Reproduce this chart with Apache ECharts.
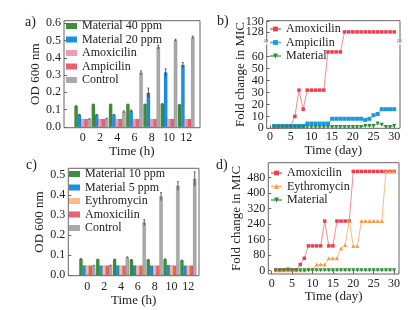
<!DOCTYPE html>
<html>
<head>
<meta charset="utf-8">
<script src="https://cdn.jsdelivr.net/npm/echarts@6/dist/echarts.min.js"></script>
<style>html,body{margin:0;padding:0;background:#fff}#main{width:419px;height:310px}</style>
</head>
<body>
<div id="main"></div>
<script>
// bar panels (a, c): OD 600 nm vs time in hours
const hours = [0, 2, 4, 6, 8, 10, 12];
const hourTicks = [0, 2, 4, 6, 8, 10, 12];

const aMat40 = [0.120, 0.130, 0.130, 0.130, 0.130, 0.133, 0.128];
const aMat40Err = [0.003, 0.002, 0.002, 0.002, 0.002, 0.002, 0.002];
const aMat20 = [0.070, 0.070, 0.070, 0.092, 0.197, 0.315, 0.358];
const aMat20Err = [0.003, 0.002, 0.002, 0.006, 0.028, 0.022, 0.015];
const aAmox = [0.045, 0.045, 0.045, 0.045, 0.045, 0.045, 0.045];
const aAmp = [0.045, 0.045, 0.045, 0.045, 0.045, 0.045, 0.045];
const aCtrl = [0.045, 0.048, 0.087, 0.313, 0.462, 0.502, 0.518];
const aCtrlErr = [0.002, 0.002, 0.006, 0.012, 0.012, 0.006, 0.008];
const aTicks = [0, 0.1, 0.2, 0.3, 0.4, 0.5, 0.6];

const cMat10 = [0.080, 0.078, 0.078, 0.076, 0.076, 0.078, 0.073];
const cMat10Err = [0.003, 0.002, 0.002, 0.002, 0.002, 0.003, 0.002];
const cMat5 = [0.048, 0.047, 0.048, 0.048, 0.047, 0.050, 0.047];
const cEry = [0.047, 0.047, 0.047, 0.047, 0.047, 0.048, 0.047];
const cAmox = [0.047, 0.047, 0.047, 0.047, 0.047, 0.047, 0.047];
const cCtrl = [0.047, 0.048, 0.088, 0.262, 0.392, 0.445, 0.480];
const cCtrlErr = [0.002, 0.002, 0.003, 0.015, 0.020, 0.022, 0.035];
const cTicks = [0, 0.1, 0.2, 0.3, 0.4, 0.5];

// line panels (b, d): fold change in MIC vs day
const days = [1,2,3,4,5,6,7,8,9,10,11,12,13,14,15,16,17,18,19,20,21,22,23,24,25,26,27,28,29,30];
const dayTicks = [0, 5, 10, 15, 20, 25, 30];

const bAmox = [1,1,2,2,2,10,32,16,32,32,32,32,32,64,64,64,64,128,128,128,128,128,128,128,128,128,128,128,128,128];
const bAmp = [2,2,2,2,2,2,2,2,4,4,4,4,4,4,8,8,8,8,8,8,8,8,7,8,11,12,16,16,16,16];
const bMat = [1,1,1,1,1,1,1,1,1,1,1,1,1,1,1,1,1,1,1,1,1,1,2,2,2,4,3,1,1,2];
const bLowTicks = [0, 10, 20, 30, 40, 50, 60];
const bTick128 = [128];
const bTick130 = [130];

const dAmox = [2,2,4,8,4,4,32,64,128,128,128,128,256,128,128,256,256,256,256,512,512,512,512,512,512,512,512,512,512,512];
const dEry = [2,2,2,2,2,2,2,2,8,8,32,32,32,64,64,64,116,132,256,128,128,256,256,256,256,256,256,512,512,512];
const dMat = [2,2,2,2,2,2,2,2,2,2,2,2,2,2,2,2,2,2,2,2,2,2,2,2,2,2,2,2,2,2];
const dTicks = [0, 80, 160, 240, 320, 400, 480];

// broken y axis in b: 0..64 linear, 128..130 stretched on top
function foldY(v) { return v <= 70 ? v : 80.8 + (v - 128) * 4.3; }
function unfoldY(t) { return t <= 70 ? Math.round(t) : Math.round(128 + (t - 80.8) / 4.3); }

const font = 'Liberation Serif';
const ink = '#222';
const frame = '#666';

const chart = echarts.init(document.getElementById('main'), null, { renderer: 'canvas' });

function barRender(slot, bw) {
    return function (params, api) {
        const t = api.value(0), v = api.value(1), e = api.value(2);
        const base = api.coord([t, 0]);
        const top = api.coord([t, v]);
        const x = base[0] + (slot - 2.5) * bw;
        const cx = x + bw / 2;
        const kids = [{
            type: 'rect',
            shape: { x: x, y: top[1], width: bw, height: base[1] - top[1] },
            style: { fill: api.visual('color'), stroke: 'rgba(0,0,0,0.25)', lineWidth: 0.4 }
        }];
        if (e > 0) {
            const hi = api.coord([t, v + e])[1];
            const lo = api.coord([t, v - e])[1];
            kids.push({ type: 'line', shape: { x1: cx, y1: hi, x2: cx, y2: lo }, style: { stroke: '#333', lineWidth: 0.8 } });
            kids.push({ type: 'line', shape: { x1: cx - 1, y1: hi, x2: cx + 1, y2: hi }, style: { stroke: '#333', lineWidth: 0.6 } });
        }
        return { type: 'group', children: kids };
    };
}

function barSeries(name, vals, errs, color, slot, bw, idx) {
    return {
        name: name,
        type: 'custom',
        xAxisIndex: idx,
        yAxisIndex: idx,
        itemStyle: { color: color },
        renderItem: barRender(slot, bw),
        data: hours.map((h, i) => [h, vals[i], errs ? errs[i] : 0])
    };
}

function lineSeries(name, vals, color, lineColor, symbol, size, rotate, idx, tf) {
    return {
        name: name,
        type: 'line',
        xAxisIndex: idx,
        yAxisIndex: idx,
        symbol: symbol,
        symbolSize: size,
        symbolRotate: rotate,
        itemStyle: { color: color },
        lineStyle: { color: lineColor, width: 1 },
        data: days.map((d, i) => [d, tf ? tf(vals[i]) : vals[i]])
    };
}

function xAxis(idx, min, max, ticks, margin, gap, name) {
    return {
        type: 'value', gridIndex: idx, min: min, max: max,
        name: name, nameLocation: 'middle', nameGap: gap,
        nameTextStyle: { fontFamily: font, fontSize: 13, color: ink },
        axisLine: { show: false, onZero: false },
        axisTick: { show: true, inside: true, length: 3, customValues: ticks, lineStyle: { color: frame } },
        axisLabel: { customValues: ticks, interval: 0, margin: margin, hideOverlap: false, fontFamily: font, fontSize: 12, color: ink },
        splitLine: { show: false }
    };
}

function yAxis(idx, min, max, ticks, gap, name, fmt) {
    return {
        type: 'value', gridIndex: idx, position: 'left', min: min, max: max,
        name: name, nameLocation: 'middle', nameGap: gap,
        nameTextStyle: { fontFamily: font, fontSize: 13, color: ink },
        axisLine: { show: false, onZero: false },
        axisTick: { show: true, inside: true, length: 3, customValues: ticks, lineStyle: { color: frame } },
        axisLabel: { customValues: ticks, interval: 0, margin: 3, hideOverlap: false, fontFamily: font, fontSize: 12, color: ink, formatter: fmt },
        splitLine: { show: false }
    };
}

function legend(names, left, top, isLine) {
    return {
        orient: 'vertical', left: left, top: top,
        itemWidth: 11, itemHeight: 6, itemGap: 1.5,
        padding: 0,
        icon: isLine ? undefined : 'rect',
        textStyle: { fontFamily: font, fontSize: 12, color: ink },
        data: names
    };
}

// the same label shows up in several panels; keep series names unique per panel
const aNames = ['Material 40 ppm', 'Material 20 ppm', 'Amoxicilin', 'Ampicilin', 'Control'];
const aColors = ['#3e8e3a', '#1a8fe3', '#f39ab6', '#e8616f', '#a9a9a9'];
const bNames = ['Amoxicilin ', 'Ampicilin ', 'Material'];
const cNames = ['Material 10 ppm', 'Material 5 ppm', 'Eythromycin', 'Amoxicilin  ', 'Control '];
const cColors = ['#3e8e3a', '#1a8fe3', '#fdbb88', '#e8616f', '#a9a9a9'];
const dNames = ['Amoxicilin   ', 'Eythromycin ', 'Material '];

const titleStyle = { fontFamily: font, fontSize: 14, fontWeight: 'normal', color: ink };

const bFmt = v => String(unfoldY(v));

// panel b lower part: plain interval axis, labels only up to 60
const bMainAxis = {
    type: 'value', gridIndex: 1, position: 'left', min: 0, max: 90.2, interval: 10,
    name: 'Fold change in MIC', nameLocation: 'middle', nameGap: 20,
    nameTextStyle: { fontFamily: font, fontSize: 13, color: ink },
    axisLine: { show: false, onZero: false },
    axisTick: { show: true, inside: true, length: 3, customValues: bLowTicks, lineStyle: { color: frame } },
    axisLabel: { margin: 3, showMaxLabel: false, fontFamily: font, fontSize: 12, color: ink,
        formatter: v => (v <= 60 ? String(v) : '') },
    splitLine: { show: false }
};

const option = {
    animation: false,
    backgroundColor: '#fff',
    textStyle: { fontFamily: font },
    title: [
        { text: 'a)', left: 20, top: 10, textStyle: titleStyle },
        { text: 'b)', left: 212, top: 9, textStyle: titleStyle },
        { text: 'c)', left: 21, top: 153, textStyle: titleStyle },
        { text: 'd)', left: 211, top: 153, textStyle: titleStyle }
    ],
    grid: [
        { left: 64, top: 20.7, width: 136, height: 107, show: true, borderColor: frame, borderWidth: 1 },
        { left: 266.7, top: 20.7, width: 133.3, height: 107.6, show: true, borderColor: frame, borderWidth: 1 },
        { left: 68.3, top: 168.3, width: 130.7, height: 107.4, show: true, borderColor: frame, borderWidth: 1 },
        { left: 268.3, top: 162.7, width: 130.7, height: 111.3, show: true, borderColor: frame, borderWidth: 1 }
    ],
    legend: [
        legend(aNames, 66, 20, false),
        legend(bNames, 269, 23, true),
        legend(cNames, 69, 168, false),
        legend(dNames, 270, 167, true)
    ],
    xAxis: [
        xAxis(0, -2.17, 13.6, hourTicks, 4, 14, 'Time (h)'),
        xAxis(1, -0.8, 31.4, dayTicks, 3, 16, 'Time (day)'),
        xAxis(2, -2.26, 13.27, hourTicks, 5, 14, 'Time (h)'),
        xAxis(3, -0.83, 31.2, dayTicks, 3.5, 16, 'Time (day)')
    ],
    yAxis: [
        yAxis(0, -0.005, 0.615, aTicks, 19, 'OD 600 nm', v => v.toFixed(1)),
        bMainAxis,
        yAxis(2, -0.003, 0.533, cTicks, 21, 'OD 600 nm', v => v.toFixed(1)),
        yAxis(3, -17, 557, dTicks, 25, 'Fold change in MIC', v => String(Math.round(v))),
        yAxis(1, 0, 90.2, bTick128.map(foldY), 20, '', bFmt),
        yAxis(1, 0, 90.2, bTick130.map(foldY), 20, '', bFmt)
    ],
    series: [
        barSeries(aNames[0], aMat40, aMat40Err, aColors[0], 0, 3.3, 0),
        barSeries(aNames[1], aMat20, aMat20Err, aColors[1], 1, 3.3, 0),
        barSeries(aNames[2], aAmox, null, aColors[2], 2, 3.3, 0),
        barSeries(aNames[3], aAmp, null, aColors[3], 3, 3.3, 0),
        barSeries(aNames[4], aCtrl, aCtrlErr, aColors[4], 4, 3.3, 0),

        lineSeries(bNames[0], bAmox, '#ee3d4e', '#f78d8f', 'rect', 3.5, 0, 1, foldY),
        lineSeries(bNames[1], bAmp, '#1a9ae0', '#62bdf0', 'rect', 4, 0, 1, foldY),
        lineSeries(bNames[2], bMat, '#2e8b3a', '#7fbf7f', 'triangle', 4, 180, 1, foldY),

        barSeries(cNames[0], cMat10, cMat10Err, cColors[0], 0, 3.2, 2),
        barSeries(cNames[1], cMat5, null, cColors[1], 1, 3.2, 2),
        barSeries(cNames[2], cEry, null, cColors[2], 2, 3.2, 2),
        barSeries(cNames[3], cAmox, null, cColors[3], 3, 3.2, 2),
        barSeries(cNames[4], cCtrl, cCtrlErr, cColors[4], 4, 3.2, 2),

        lineSeries(dNames[0], dAmox, '#ee3d4e', '#f78d8f', 'rect', 3.5, 0, 3),
        lineSeries(dNames[1], dEry, '#f99a4a', '#fdbb84', 'triangle', 4, 0, 3),
        lineSeries(dNames[2], dMat, '#2e8b3a', '#7fbf7f', 'triangle', 4, 180, 3)
    ],
    graphic: [
        // break marks on the broken axis of b
        { type: 'rect', shape: { x: 265, y: 41.5, width: 4, height: 3 }, style: { fill: '#fff' }, z: 100 },
        { type: 'rect', shape: { x: 398.3, y: 41.5, width: 4, height: 3 }, style: { fill: '#fff' }, z: 100 },
        { type: 'text', style: { text: '\u2248', x: 263.5, y: 37.5, font: '9px ' + font, fill: '#666' }, z: 101 },
        { type: 'text', style: { text: '\u2248', x: 397, y: 37.5, font: '9px ' + font, fill: '#666' }, z: 101 }
    ]
};

chart.setOption(option);
</script>
</body>
</html>
